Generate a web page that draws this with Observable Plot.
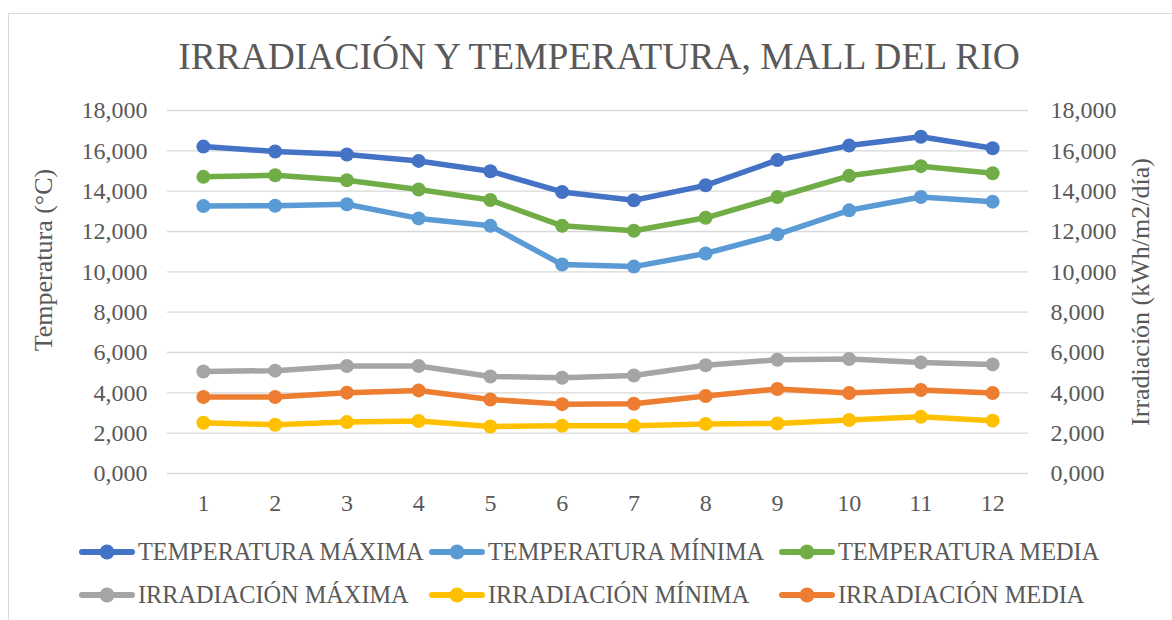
<!DOCTYPE html>
<html>
<head>
<meta charset="utf-8">
<script src="https://cdn.jsdelivr.net/npm/d3@7"></script>
<script src="https://cdn.jsdelivr.net/npm/@observablehq/plot@0.6"></script>
<style>
  html, body { margin: 0; padding: 0; background: #fff; overflow: hidden; }
  #wrap { position: relative; width: 1172px; height: 620px; overflow: hidden; background: #fff;
          font-family: 'Liberation Serif', 'Times New Roman', serif; color: #595959; }
  #frame { position: absolute; left: 8px; top: 13px; width: 1300px; height: 800px; border: 1px solid #d9d9d9; box-sizing: border-box; }
  #title { position: absolute; left: 599px; top: 38px; transform: translateX(-50%); font-size: 37.5px; line-height: 1; white-space: nowrap; }
  .ytitle { position: absolute; font-size: 26px; line-height: 1; white-space: nowrap; transform: translate(-50%, -50%) rotate(-90deg); }
  #chart { position: absolute; left: 0; top: 90px; }
  #chart svg, #chart svg text { font-family: 'Liberation Serif', 'Times New Roman', serif !important; }
  .leg { position: absolute; display: flex; align-items: center; font-size: 24.3px; line-height: 24px; height: 24px; white-space: nowrap; }
  .leg svg { display: block; margin-right: 3px; }
</style>
</head>
<body>
<div id="wrap">
  <div id="frame"></div>
  <div id="title">IRRADIACIÓN Y TEMPERATURA, MALL DEL RIO</div>
  <div class="ytitle" style="left:44px; top:260px;">Temperatura (°C)</div>
  <div class="ytitle" style="left:1141px; top:292px;">Irradiación (kWh/m2/día)</div>
  <div id="chart"></div>
  <div id="legend"></div>
</div>
<script>
const months = [1, 2, 3, 4, 5, 6, 7, 8, 9, 10, 11, 12];
const seriesNames = ["TEMPERATURA MÁXIMA", "TEMPERATURA MÍNIMA", "TEMPERATURA MEDIA", "IRRADIACIÓN MÁXIMA", "IRRADIACIÓN MÍNIMA", "IRRADIACIÓN MEDIA"];
const seriesColors = ["#4472C4", "#5B9BD5", "#70AD47", "#A5A5A5", "#FFC000", "#ED7D31"];
const tempMax = [16.21, 15.97, 15.82, 15.50, 14.99, 13.96, 13.55, 14.29, 15.54, 16.26, 16.70, 16.13];
const tempMin = [13.26, 13.28, 13.35, 12.65, 12.28, 10.36, 10.26, 10.91, 11.86, 13.05, 13.71, 13.48];
const tempMed = [14.71, 14.79, 14.54, 14.08, 13.56, 12.28, 12.04, 12.68, 13.71, 14.76, 15.24, 14.89];
const irrMax = [5.06, 5.10, 5.33, 5.33, 4.81, 4.75, 4.86, 5.37, 5.64, 5.68, 5.51, 5.41];
const irrMin = [2.52, 2.42, 2.55, 2.60, 2.33, 2.37, 2.37, 2.46, 2.48, 2.65, 2.81, 2.62];
const irrMed = [3.79, 3.79, 4.01, 4.12, 3.67, 3.44, 3.46, 3.84, 4.19, 3.99, 4.14, 3.99];
const yTicks = [0, 2, 4, 6, 8, 10, 12, 14, 16, 18];

const seriesValues = [tempMax, tempMin, tempMed, irrMax, irrMin, irrMed];
const rows = [];
seriesNames.forEach((name, i) => {
  months.forEach((m, j) => rows.push({month: m, value: seriesValues[i][j], series: name}));
});

const es = d3.formatLocale({decimal: ",", thousands: ".", grouping: [3], currency: ["", "€"]});
const fmt = es.format(".3f");
const serif = "'Liberation Serif', 'Times New Roman', serif";

const marks = [
  Plot.gridY(yTicks, {stroke: "#D9D9D9", strokeOpacity: 1, strokeWidth: 1.3}),
  Plot.axisY(yTicks, {anchor: "left", tickSize: 0, tickPadding: 20, tickFormat: fmt, label: null, fontFamily: serif}),
  Plot.axisY(yTicks, {anchor: "right", tickSize: 0, tickPadding: 22, tickFormat: fmt, label: null, fontFamily: serif}),
  Plot.axisX(months, {tickSize: 0, tickPadding: 20, tickFormat: d => String(d), label: null, fontFamily: serif})
];
seriesNames.forEach(name => {
  const sub = rows.filter(r => r.series === name);
  marks.push(Plot.lineY(sub, {x: "month", y: "value", stroke: "series", strokeWidth: 5.5, strokeLinejoin: "round", strokeLinecap: "round"}));
  marks.push(Plot.dot(sub, {x: "month", y: "value", fill: "series", r: 7, stroke: null}));
});

const chart = Plot.plot({
  width: 1172,
  height: 435,
  marginLeft: 167,
  marginRight: 144,
  marginTop: 20,
  marginBottom: 52,
  x: {type: "point", domain: months, padding: 0.5, round: false},
  y: {domain: [0, 18]},
  color: {domain: seriesNames, range: seriesColors},
  style: {fontFamily: serif, fontSize: "24px", color: "#595959", background: "transparent", overflow: "visible"},
  marks
});
document.getElementById("chart").appendChild(chart);

// legend
const legCols = [79, 429, 779];
const legRows = [540, 583];
const legend = document.getElementById("legend");
seriesNames.forEach((name, i) => {
  const div = document.createElement("div");
  div.className = "leg";
  div.style.left = legCols[i % 3] + "px";
  div.style.top = legRows[Math.floor(i / 3)] + "px";
  const c = seriesColors[i];
  div.innerHTML = `<svg width="56" height="24" viewBox="0 0 56 24"><line x1="3" y1="12" x2="53" y2="12" stroke="${c}" stroke-width="6" stroke-linecap="round"/><circle cx="28" cy="12" r="7.5" fill="${c}"/></svg><span>${name}</span>`;
  legend.appendChild(div);
});
</script>
</body>
</html>
